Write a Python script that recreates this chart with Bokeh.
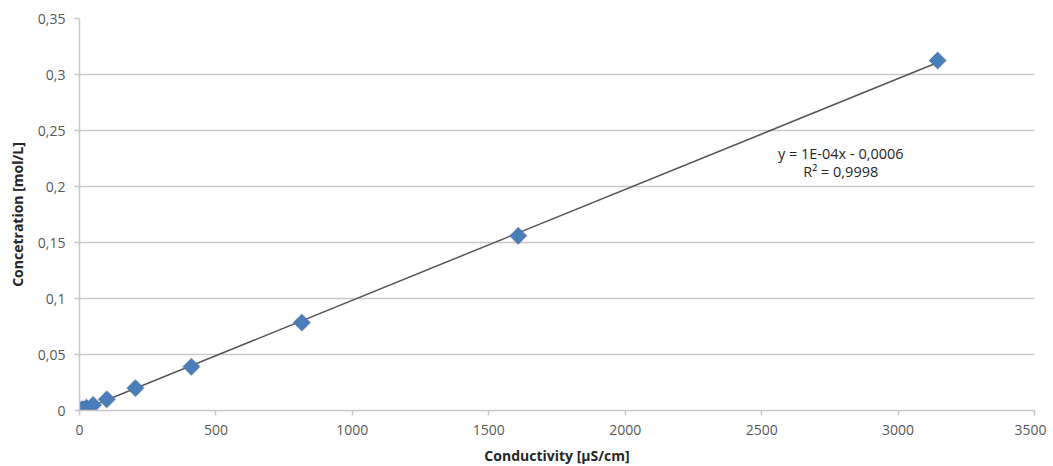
import numpy as np
from bokeh.plotting import figure
from bokeh.models import ColumnDataSource, CustomJSTickFormatter, FixedTicker, Label, Range1d
from bokeh.embed import file_html
from bokeh.resources import INLINE

# Data
conductivity = [3, 6, 12, 25, 50, 100, 205, 410, 815, 1608, 3145]
concentration = [0.0003, 0.0006, 0.0012, 0.0025, 0.0050, 0.0100, 0.0200, 0.0390, 0.0785, 0.1560, 0.3125]
x_ticks = [0, 500, 1000, 1500, 2000, 2500, 3000, 3500]
y_ticks = [0, 0.05, 0.1, 0.15, 0.2, 0.25, 0.3, 0.35]
equation_text = "y = 1E-04x - 0,0006"
r2_text = "R² = 0,9998"
x_title = "Conductivity [µS/cm]"
y_title = "Concetration [mol/L]"

FONT = "Open Sans"
GRAY_TXT = "#595959"
GRID = "#c8c8c8"

p = figure(output_backend="svg", toolbar_location=None,
           frame_width=955, frame_height=392,
           min_border_left=79, min_border_right=12, min_border_top=18, min_border_bottom=54,
           x_range=Range1d(0, 3500), y_range=Range1d(0, 0.35))
p.outline_line_color = None
p.background_fill_color = "white"
p.border_fill_color = "white"

# Grid
p.xgrid.grid_line_color = None
p.ygrid.grid_line_color = GRID
p.ygrid.grid_line_width = 1.5
p.ygrid.ticker = FixedTicker(ticks=y_ticks)

# Axes
p.xaxis.ticker = FixedTicker(ticks=x_ticks)
p.yaxis.ticker = FixedTicker(ticks=y_ticks)
p.yaxis.formatter = CustomJSTickFormatter(code="""
    var s = tick.toFixed(2);
    s = s.replace(/0+$/, '').replace(/\\.$/, '');
    return s.replace('.', ',');
""")
for ax in (p.xaxis[0], p.yaxis[0]):
    ax.axis_line_color = GRID
    ax.axis_line_width = 1.5
    ax.major_tick_line_color = GRID
    ax.major_tick_line_width = 1.5
    ax.major_tick_out = 5
    ax.major_tick_in = 0
    ax.minor_tick_line_color = None
    ax.major_label_text_font = FONT
    ax.major_label_text_font_size = "14px"
    ax.major_label_text_color = GRAY_TXT
    ax.axis_label_text_font = FONT
    ax.axis_label_text_font_size = "14px"
    ax.axis_label_text_font_style = "bold"
    ax.axis_label_text_color = "#262626"
p.xaxis.major_label_standoff = 9
p.yaxis.major_label_standoff = 9
p.xaxis.axis_label = x_title
p.yaxis.axis_label = y_title
p.xaxis.axis_label_standoff = 8
p.yaxis.axis_label_standoff = 8

# Linear trendline computed from the data
xs = np.array(conductivity, dtype=float)
ys = np.array(concentration, dtype=float)
slope, intercept = np.polyfit(xs, ys, 1)
tx = np.array([xs.min(), xs.max()])
p.line(tx, slope * tx + intercept, line_color="#555555", line_width=1.5)

src = ColumnDataSource(dict(x=conductivity, y=concentration))
# soft halo
p.scatter("x", "y", source=src, marker="square", angle=np.pi / 4, size=14,
          fill_color="#9aa3ad", fill_alpha=0.3, line_color=None)
p.scatter("x", "y", source=src, marker="square", angle=np.pi / 4, size=11.5,
          fill_color="#4a7ebb", line_color="#3b6aa0", line_width=0.8)

p.add_layout(Label(x=2790, y=0.2295, text=equation_text, text_font=FONT,
                   text_font_size="14.5px", text_color="#262626",
                   text_align="center", text_baseline="middle"))
p.add_layout(Label(x=2790, y=0.2133, text=r2_text, text_font=FONT,
                   text_font_size="14.5px", text_color="#262626",
                   text_align="center", text_baseline="middle"))

open("out.html", "w").write(file_html(p, INLINE))
